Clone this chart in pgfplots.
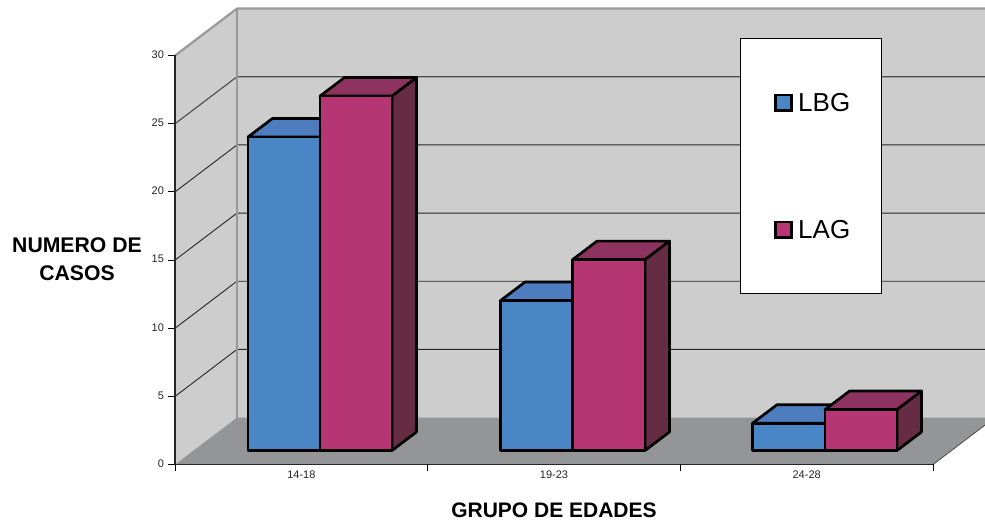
\documentclass[border=0pt]{standalone}
\usepackage{pgfplots}
\pgfplotsset{compat=1.18}
\usepackage{fontspec}
\setmainfont{Liberation Sans}

\definecolor{wallgray}{HTML}{CDCDCD}
\definecolor{floorgray}{HTML}{949596}
\definecolor{edgegray}{HTML}{999999}
\definecolor{lbgfront}{HTML}{4A86C5}
\definecolor{lbgtop}{HTML}{4D7DBF}
\definecolor{lagfront}{HTML}{B53672}
\definecolor{lagtop}{HTML}{8E3360}
\definecolor{lagside}{HTML}{662C44}

% One 3-D column: {left x}{right x}{value}{front}{top}{side}
\newcommand{\column}[6]{%
  \pgfmathsetmacro{\vt}{#3+1.03}%
  \pgfmathsetmacro{\vd}{#3+1.03+1.36}%
  \pgfmathsetmacro{\xa}{#1+24.5}%
  \pgfmathsetmacro{\xb}{#2+24.5}%
  \addplot[fill=#5,draw=black,line width=2.7pt,line join=round] coordinates {(#1,\vt) (\xa,\vd) (\xb,\vd) (#2,\vt)} --cycle;
  \addplot[fill=#6,draw=black,line width=2.7pt,line join=round] coordinates {(#2,1.03) (\xb,2.39) (\xb,\vd) (#2,\vt)} --cycle;
  \addplot[fill=#4,draw=black,line width=2.7pt,line join=round] coordinates {(#1,1.03) (#1,\vt) (#2,\vt) (#2,1.03)} --cycle;
}

\begin{document}
\begin{tikzpicture}[x=1pt,y=1pt]
% Scene: x is measured along the drawing, y is in number of cases on the front plane
\begin{axis}[
  name=scene,
  at={(0pt,0pt)}, anchor=south west,
  width=985pt, height=521pt, scale only axis,
  xmin=0, xmax=985, ymin=-4.14, ymax=34.08,
  hide axis,
]
\addplot[fill=white,draw=none] coordinates {(0,-4.14) (985,-4.14) (985,34.08) (0,34.08)} --cycle;
% walls and floor
\addplot[fill=wallgray,draw=none] coordinates {(237,3.45) (1000,3.45) (1000,33.45) (237,33.45)} --cycle;
\addplot[fill=wallgray,draw=none] coordinates {(175,0) (237,3.45) (237,33.45) (175,30)} --cycle;
\addplot[fill=floorgray,draw=none] coordinates {(175,0) (933,0) (1000,3.72) (1000,3.45) (237,3.45)} --cycle;
\addplot[color=black!70,line width=0.8pt] coordinates {(933,0) (995,3.45)};
% gridlines on the back and left walls
\addplot[color=black!70,line width=1.1pt] coordinates {(175,25) (237,28.45) (1000,28.45)};
\addplot[color=black!85,line width=0.9pt] coordinates {(175,20) (237,23.45) (1000,23.45)};
\addplot[color=black!85,line width=0.9pt] coordinates {(175,15) (237,18.45) (1000,18.45)};
\addplot[color=black!85,line width=0.9pt] coordinates {(175,10) (237,13.45) (1000,13.45)};
\addplot[color=black!85,line width=0.9pt] coordinates {(175,5) (237,8.45) (1000,8.45)};
% wall edges
\addplot[color=edgegray,line width=2.2pt] coordinates {(175,30) (237,33.45) (1000,33.45)};
\addplot[color=edgegray,line width=2.2pt] coordinates {(237,3.45) (237,33.45)};
% columns: LBG 23, 11, 2 and LAG 26, 14, 3
\column{248}{320}{23}{lbgfront}{lbgtop}{lbgtop}
\column{320}{392}{26}{lagfront}{lagtop}{lagside}
\column{500.5}{572.5}{11}{lbgfront}{lbgtop}{lbgtop}
\column{572.5}{645}{14}{lagfront}{lagtop}{lagside}
\column{752.5}{825}{2}{lbgfront}{lbgtop}{lbgtop}
\column{825}{897}{3}{lagfront}{lagtop}{lagside}
% legend box and keys
\addplot[fill=white,draw=black,line width=0.9pt] coordinates {(740.5,12.55) (881.5,12.55) (881.5,31.29) (740.5,31.29)} --cycle;
\addplot[fill=lbgfront,draw=black,line width=2.6pt] coordinates {(775.5,25.98) (791.5,25.98) (791.5,27.12) (775.5,27.12)} --cycle;
\addplot[fill=lagfront,draw=black,line width=2.6pt] coordinates {(775.5,16.66) (791.5,16.66) (791.5,17.8) (775.5,17.8)} --cycle;
\node[anchor=west,font=\fontsize{26}{26}\selectfont,inner sep=0pt] at (axis cs:798,26.55) {LBG};
\node[anchor=west,font=\fontsize{26}{26}\selectfont,inner sep=0pt] at (axis cs:798,17.25) {LAG};
% axis titles
\node[align=center,font=\fontsize{21.2}{28}\bfseries\selectfont,inner sep=0pt] at (axis cs:77,15.05) {NUMERO DE\\CASOS};
\node[font=\fontsize{21}{24}\bfseries\selectfont,inner sep=0pt] at (axis cs:554,-3.35) {GRUPO DE EDADES};
\end{axis}
% Value axis and category axis on the front plane
\begin{axis}[
  at={(175pt,56.5pt)}, anchor=south west,
  width=758pt, height=409pt, scale only axis,
  xmin=0, xmax=3, ymin=0, ymax=30,
  axis x line=bottom, axis y line=left,
  axis line style={-,line width=1.3pt,color=black!85},
  x axis line style={-},
  y axis line style={-},
  xtick={0,1,2,3}, xticklabels={,,,},
  extra x ticks={0.5,1.5,2.5},
  extra x tick labels={14-18,19-23,24-28},
  extra x tick style={major tick length=0pt},
  ytick={0,5,...,30},
  tick align=outside,
  major tick length=7pt,
  tick style={draw=black,line width=0.9pt},
  tick label style={font=\fontsize{11}{11}\selectfont,color=black!85},
  /pgf/number format/assume math mode=true,
  yticklabel style={xshift=-0.5pt,yshift=0.8pt},
  xticklabel style={yshift=-3pt},
]
\end{axis}
\end{tikzpicture}
\end{document}
